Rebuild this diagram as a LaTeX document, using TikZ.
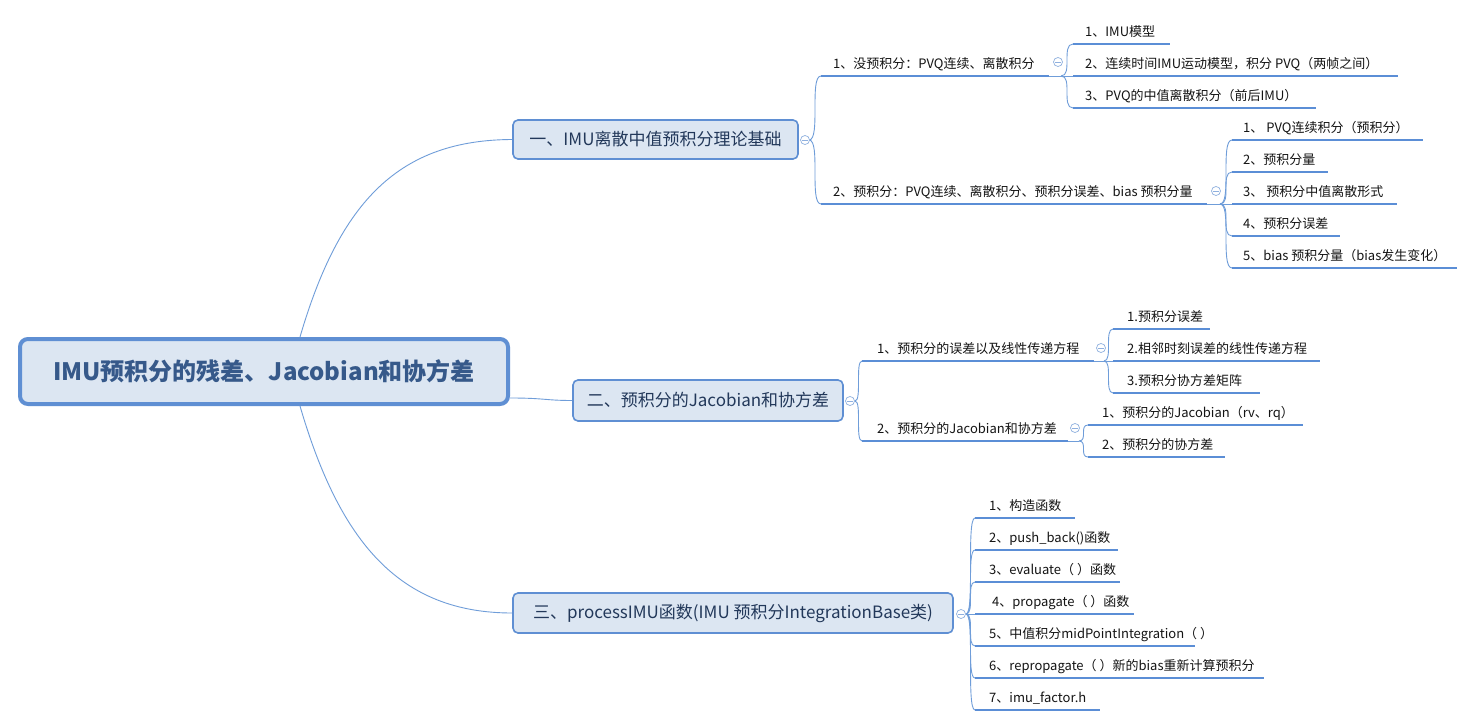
\documentclass[tikz,border=0pt]{standalone}
\usepackage{fontspec}
\setmainfont{Noto Sans CJK SC}
\definecolor{lineblue}{HTML}{6F9DD9}
\definecolor{ulblue}{HTML}{5B8ED6}
\definecolor{cirblue}{HTML}{8FB0DF}
\definecolor{boxfill}{HTML}{DCE6F2}
\definecolor{boxline}{HTML}{5F8FD3}
\definecolor{roottxt}{HTML}{36598A}
\definecolor{l1txt}{HTML}{22385A}
\definecolor{txt}{HTML}{141414}
\newcommand\mmleaf[6]{%
  \coordinate (#1s) at (#2,#3);
  \coordinate (#1e) at (#4,#3);
  \node[lbl] (#1) at ({#2+#5},{#3-7.8}) {#6};
  \draw[mmul] (#1s) -- (#1e);
}
\newcommand\mmcurve[2]{%
  \draw[conn] (#1) .. controls (#1 -| #2) and (#2 -| #1) .. (#2);
}
\begin{document}
\begin{tikzpicture}[x=1pt,y=-1pt,
  conn/.style={draw=lineblue, line width=0.9pt},
  mmul/.style={draw=ulblue, line width=2.9pt},
  lbl/.style={font=\fontsize{13}{15}\selectfont, text=txt, inner sep=0pt, anchor=base west},
  lonebox/.style={draw=boxline, line width=1.6pt, fill=boxfill, rounded corners=5pt,
    font=\fontsize{17}{20}\selectfont, text=l1txt, inner sep=0pt},
  rootbox/.style={draw=boxline, line width=4pt, fill=boxfill, rounded corners=8pt,
    font=\bfseries\fontsize{24}{28}\selectfont, text=roottxt, inner sep=0pt,
    minimum width=488pt, minimum height=65pt},
  collapse/.style={circle, draw=cirblue, line width=0.7pt, fill=white, minimum size=9pt, inner sep=0pt,
    path picture={\draw[cirblue, line width=0.7pt]
      ([xshift=-2.6pt]path picture bounding box.center) -- ([xshift=2.6pt]path picture bounding box.center);}}
]
\useasboundingbox[fill=white] (0,0) rectangle (1475,727);

% root and level-1 boxes
\node[rootbox] (root) at (264,371.5) {IMU预积分的残差、Jacobian和协方差};
\node[lonebox, minimum width=285pt, minimum height=39pt] (n1) at (655.5,139.5) {一、IMU离散中值预积分理论基础};
\node[lonebox, minimum width=270pt, minimum height=41pt] (n2) at (708,400.5) {二、预积分的Jacobian和协方差};
\node[lonebox, minimum width=440pt, minimum height=40pt] (n3) at (733,613) {三、processIMU函数(IMU 预积分IntegrationBase类)};

% root connectors
\coordinate (rt) at ([xshift=36pt]root.north);
\coordinate (rb) at ([xshift=36pt]root.south);
\coordinate (rr) at ([yshift=-26.5pt]root.east);
\draw[conn] (rt) .. controls (340,200) and (400,140) .. (n1.west);
\draw[conn] (rr) .. controls (545,398) and (545,400.5) .. (n2.west);
\draw[conn] (rb) .. controls (340,543) and (400,613) .. (n3.west);

% ---------------- branch 1
\mmleaf{a1}{821}{76}{1049}{12}{1、没预积分：PVQ连续、离散积分}
\mmleaf{a11}{1073}{44}{1170}{12}{1、IMU模型}
\mmleaf{a12}{1073}{76}{1398}{12}{2、连续时间IMU运动模型，积分 PVQ（两帧之间）}
\mmleaf{a13}{1073}{108}{1316}{12}{3、PVQ的中值离散积分（前后IMU）}
\mmleaf{a2}{821}{204}{1207}{12}{2、预积分：PVQ连续、离散积分、预积分误差、bias 预积分量}
\mmleaf{a21}{1232}{140}{1423}{11}{1、 PVQ连续积分（预积分）}
\mmleaf{a22}{1232}{172}{1328}{11}{2、预积分量}
\mmleaf{a23}{1232}{204}{1397}{11}{3、 预积分中值离散形式}
\mmleaf{a24}{1232}{236}{1340}{11}{4、预积分误差}
\mmleaf{a25}{1232}{268}{1457}{11}{5、bias 预积分量（bias发生变化）}

\coordinate (o1) at (809,140);
\mmcurve{o1}{a1s}
\mmcurve{o1}{a2s}
\coordinate (oa1) at (1061,76);
\draw[conn] (a1e) -- (a12s);
\mmcurve{oa1}{a11s}
\mmcurve{oa1}{a13s}
\coordinate (oa2) at (1220,204);
\draw[conn] (a2e) -- (a23s);
\mmcurve{oa2}{a21s}
\mmcurve{oa2}{a22s}
\mmcurve{oa2}{a24s}
\mmcurve{oa2}{a25s}

% ---------------- branch 2
\mmleaf{b1}{862}{361}{1094}{15}{1、预积分的误差以及线性传递方程}
\mmleaf{b11}{1113}{329}{1210}{14}{1.预积分误差}
\mmleaf{b12}{1113}{361}{1320}{14}{2.相邻时刻误差的线性传递方程}
\mmleaf{b13}{1113}{393}{1260}{14}{3.预积分协方差矩阵}
\mmleaf{b2}{862}{441}{1068}{15}{2、预积分的Jacobian和协方差}
\mmleaf{b21}{1088}{425}{1303}{14}{1、预积分的Jacobian（rv、rq）}
\mmleaf{b22}{1088}{457}{1225}{14}{2、预积分的协方差}

\coordinate (o2) at (855,401);
\mmcurve{o2}{b1s}
\mmcurve{o2}{b2s}
\coordinate (ob1) at (1104,361);
\draw[conn] (b1e) -- (b12s);
\mmcurve{ob1}{b11s}
\mmcurve{ob1}{b13s}
\coordinate (ob2) at (1079,441);
\draw[conn] (b2e) -- (ob2);
\mmcurve{ob2}{b21s}
\mmcurve{ob2}{b22s}

% ---------------- branch 3
\mmleaf{c1}{975}{518}{1075}{14}{1、构造函数}
\mmleaf{c2}{975}{550}{1118}{14}{2、push\_back()函数}
\mmleaf{c3}{975}{582}{1120}{14}{3、evaluate（ ）函数}
\mmleaf{c4}{975}{614}{1134}{17}{4、propagate（ ）函数}
\mmleaf{c5}{975}{646}{1195}{14}{5、中值积分midPointIntegration（ ）}
\mmleaf{c6}{975}{678}{1264}{14}{6、repropagate（ ）新的bias重新计算预积分}
\mmleaf{c7}{975}{710}{1100}{14}{7、imu\_factor.h}

\coordinate (o3) at (966,614);
\mmcurve{o3}{c1s}
\mmcurve{o3}{c2s}
\mmcurve{o3}{c3s}
\draw[conn] (o3) -- (c4s);
\mmcurve{o3}{c5s}
\mmcurve{o3}{c6s}
\mmcurve{o3}{c7s}

% collapse markers
\node[collapse] (k1) at (805,140) {};
\node[collapse] (ka1) at (1058,62) {};
\node[collapse] (ka2) at (1216,191) {};
\node[collapse] (k2) at (850,401) {};
\node[collapse] (kb1) at (1101,348) {};
\node[collapse] (kb2) at (1075,428) {};
\node[collapse] (k3) at (961,614) {};
\end{tikzpicture}
\end{document}
